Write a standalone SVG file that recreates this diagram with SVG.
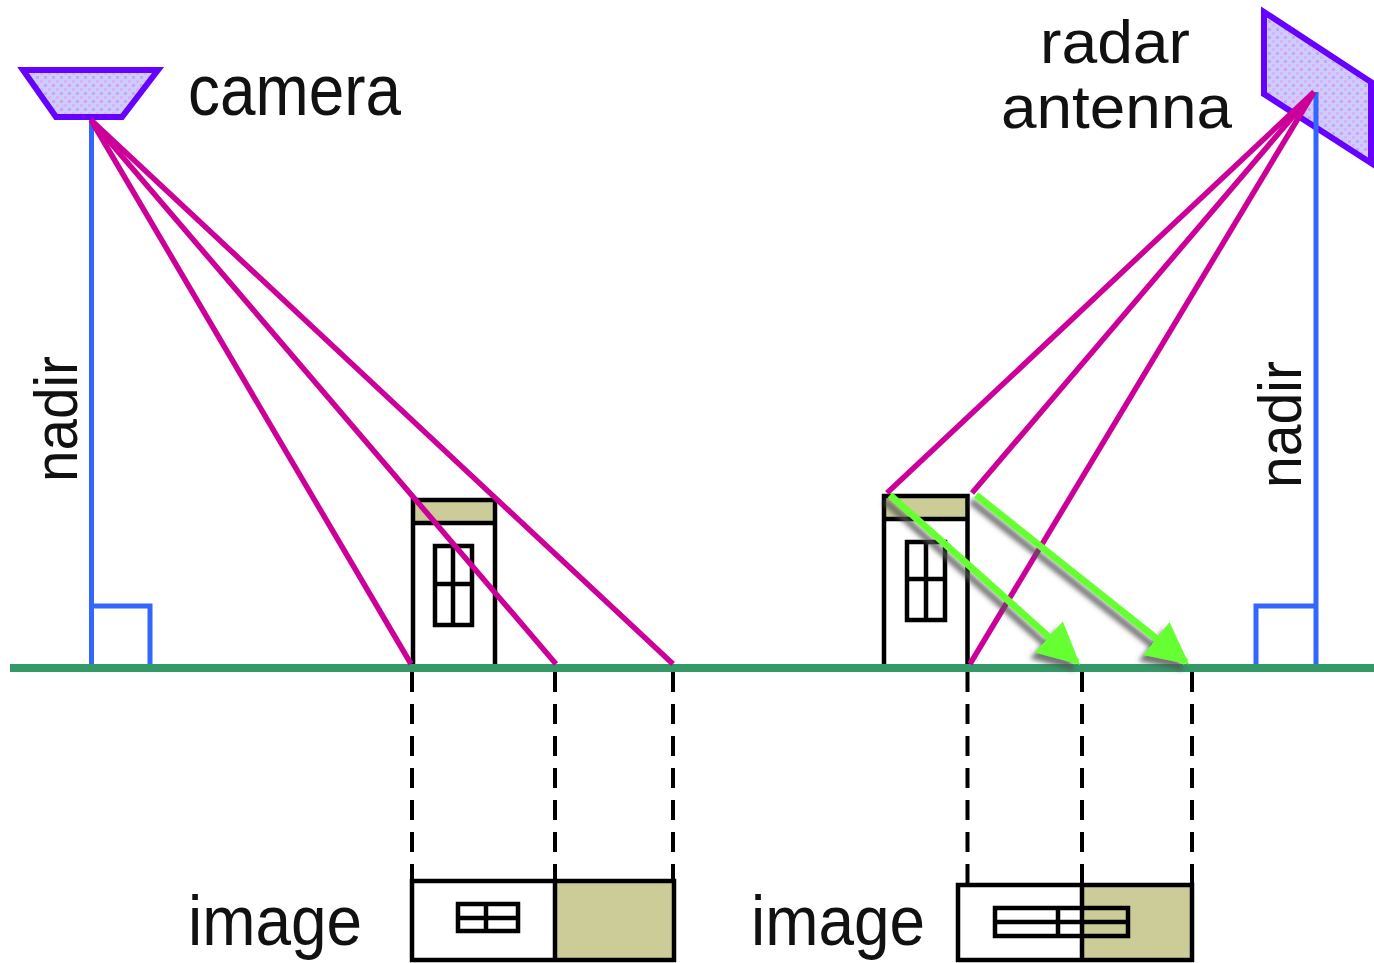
<svg xmlns="http://www.w3.org/2000/svg" width="1374" height="963" viewBox="0 0 1374 963">
  <style>
    .label { font-family: "Liberation Sans", Arial, sans-serif; fill: #111; }
    .ray { stroke: #CC0099; stroke-width: 5.5; fill: none; }
    .nadir { stroke: #3366FF; stroke-width: 5; fill: none; }
    .proj { stroke: #000; stroke-width: 4; stroke-dasharray: 20 12; fill: none; }
    .wall { stroke: #000; stroke-width: 4.5; fill: none; }
    .roof { fill: #CCCC99; }
    .sensor { stroke: #6600FF; stroke-width: 6; fill: url(#dots); }
    .echo { stroke: #66FF33; stroke-width: 7; fill: none; marker-end: url(#head); filter: url(#shade); }
  </style>
  <defs>
    <pattern id="dots" width="8" height="8" patternUnits="userSpaceOnUse">
      <rect width="8" height="8" fill="#CCCCFF"/>
      <rect x="0" y="0" width="3" height="3" fill="#DDB3F5"/>
      <rect x="4" y="4" width="3" height="3" fill="#C9A6F2"/>
    </pattern>
    <marker id="head" viewBox="0 0 10 10" refX="9" refY="5" markerWidth="6" markerHeight="7" markerUnits="strokeWidth" orient="auto">
      <path d="M0,0 L10,5 L0,10 Z" fill="#66FF33"/>
    </marker>
    <filter id="shade" x="-20%" y="-20%" width="140%" height="140%">
      <feDropShadow dx="-5" dy="6" stdDeviation="2.5" flood-color="#555" flood-opacity="0.8"/>
    </filter>
  </defs>

  <!-- ground -->
  <rect id="ground" x="10" y="664" width="1364" height="8" fill="#339966"/>

  <!-- camera side -->
  <g id="camera">
    <polygon class="sensor" points="23,70 158,70 122,117 56,117"/>
    <text class="label" x="188" y="115" font-size="72" textLength="213" lengthAdjust="spacingAndGlyphs">camera</text>
  </g>
  <g id="camera-nadir">
    <line class="nadir" x1="91.5" y1="120" x2="91.5" y2="664"/>
    <polyline class="nadir" points="91.5,606 150,606 150,664"/>
    <text class="label" transform="translate(77,482) rotate(-90)" font-size="62" textLength="126" lengthAdjust="spacingAndGlyphs">nadir</text>
  </g>

  <!-- radar side -->
  <g id="radar">
    <polygon class="sensor" points="1264,12 1371,82 1371,163 1264,94"/>
    <text class="label" x="1040" y="63" font-size="62" textLength="150" lengthAdjust="spacingAndGlyphs">radar</text>
    <text class="label" x="1001" y="128" font-size="62" textLength="231" lengthAdjust="spacingAndGlyphs">antenna</text>
  </g>
  <g id="radar-nadir">
    <line class="nadir" x1="1316" y1="92" x2="1316" y2="664"/>
    <polyline class="nadir" points="1316,606 1256,606 1256,664"/>
    <text class="label" transform="translate(1301,488) rotate(-90)" font-size="62" textLength="127" lengthAdjust="spacingAndGlyphs">nadir</text>
  </g>

  <!-- buildings -->
  <g id="building-left">
    <rect class="roof" x="413" y="500" width="82" height="23"/>
    <polyline class="wall" points="413,664 413,500 495,500 495,664"/>
    <line class="wall" x1="413" y1="523" x2="495" y2="523"/>
    <rect class="wall" x="435" y="546" width="37" height="79"/>
    <line class="wall" x1="453" y1="546" x2="453" y2="625"/>
    <line class="wall" x1="435" y1="584" x2="472" y2="584"/>
  </g>
  <g id="building-right">
    <rect class="roof" x="884" y="496" width="83.5" height="23"/>
    <polyline class="wall" points="884,664 884,496 967.5,496 967.5,664"/>
    <line class="wall" x1="884" y1="519" x2="967.5" y2="519"/>
    <rect class="wall" x="907" y="542" width="38" height="78"/>
    <line class="wall" x1="926" y1="542" x2="926" y2="620"/>
    <line class="wall" x1="907" y1="579" x2="945" y2="579"/>
  </g>

  <!-- connectors -->
  <g id="connectors">
    <line class="ray" x1="91" y1="120" x2="411" y2="664"/>
    <line class="ray" x1="91" y1="120" x2="556" y2="664"/>
    <line class="ray" x1="91" y1="120" x2="673" y2="664"/>
    <line class="ray" x1="1314" y1="92" x2="887" y2="493"/>
    <line class="ray" x1="1314" y1="92" x2="972" y2="493"/>
    <line class="ray" x1="1314" y1="92" x2="970" y2="664"/>

    <line class="echo" x1="890" y1="495" x2="1077" y2="662"/>
    <line class="echo" x1="976" y1="495" x2="1186" y2="662"/>

    <line class="proj" x1="412" y1="672" x2="412" y2="880"/>
    <line class="proj" x1="555" y1="672" x2="555" y2="880"/>
    <line class="proj" x1="673" y1="672" x2="673" y2="880"/>
    <line class="proj" x1="967.5" y1="672" x2="967.5" y2="883"/>
    <line class="proj" x1="1082" y1="672" x2="1082" y2="883"/>
    <line class="proj" x1="1192" y1="672" x2="1192" y2="883"/>
  </g>

  <!-- image strips -->
  <g id="image-left">
    <rect class="roof" x="555" y="881" width="119" height="79"/>
    <rect class="wall" x="412" y="881" width="262" height="79"/>
    <line class="wall" x1="555" y1="881" x2="555" y2="960"/>
    <rect class="wall" x="458" y="904" width="60" height="27"/>
    <line class="wall" x1="486" y1="904" x2="486" y2="931"/>
    <line class="wall" x1="458" y1="918" x2="518" y2="918"/>
    <text class="label" x="188" y="945" font-size="70" textLength="174" lengthAdjust="spacingAndGlyphs">image</text>
  </g>
  <g id="image-right">
    <rect class="roof" x="1082" y="885" width="110" height="75"/>
    <rect class="wall" x="958" y="885" width="234" height="75"/>
    <line class="wall" x1="1082" y1="885" x2="1082" y2="960"/>
    <rect class="wall" x="995" y="908" width="133" height="28"/>
    <line class="wall" x1="1058" y1="908" x2="1058" y2="936"/>
    <line class="wall" x1="995" y1="922" x2="1128" y2="922"/>
    <text class="label" x="751" y="945" font-size="70" textLength="174" lengthAdjust="spacingAndGlyphs">image</text>
  </g>
</svg>
